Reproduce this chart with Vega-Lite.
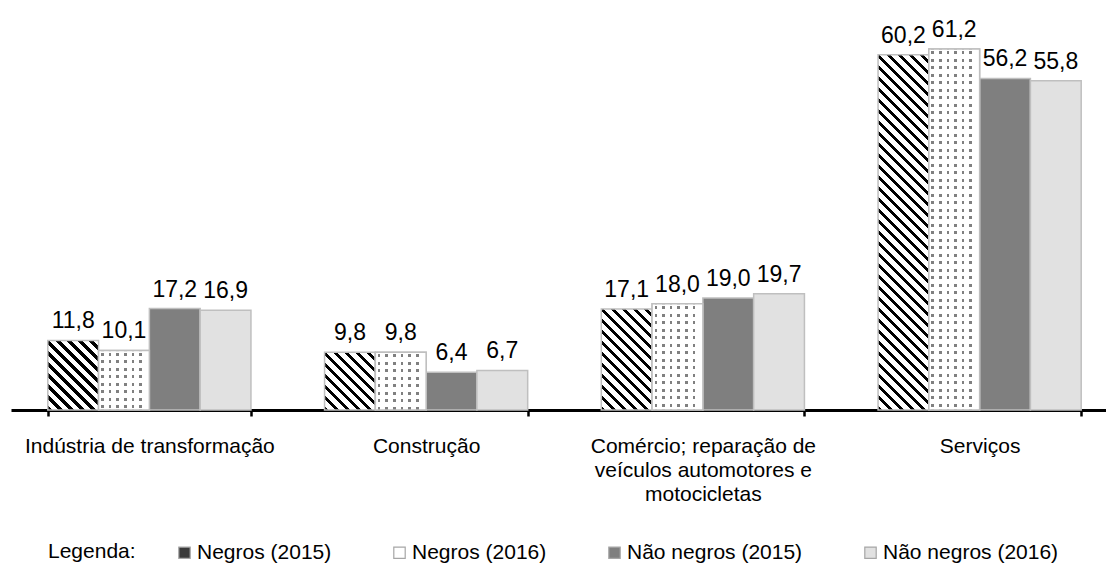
{
  "$schema": "https://vega.github.io/schema/vega-lite/v6.json",
  "width": 1095,
  "height": 410,
  "autosize": "none",
  "padding": {"left": 11, "top": 0, "right": 0, "bottom": 157},
  "background": "white",
  "config": {
    "view": {"stroke": null},
    "font": "Liberation Sans",
    "locale": {"number": {"decimal": ",", "thousands": ".", "grouping": [3], "currency": ["R$ ", ""]}}
  },
  "data": {
    "values": [
      {"setor": "Indústria de transformação", "grupo": "Negros (2015)", "valor": 11.8},
      {"setor": "Indústria de transformação", "grupo": "Negros (2016)", "valor": 10.1},
      {"setor": "Indústria de transformação", "grupo": "Não negros (2015)", "valor": 17.2},
      {"setor": "Indústria de transformação", "grupo": "Não negros (2016)", "valor": 16.9},
      {"setor": "Construção", "grupo": "Negros (2015)", "valor": 9.8},
      {"setor": "Construção", "grupo": "Negros (2016)", "valor": 9.8},
      {"setor": "Construção", "grupo": "Não negros (2015)", "valor": 6.4},
      {"setor": "Construção", "grupo": "Não negros (2016)", "valor": 6.7},
      {"setor": "Comércio; reparação de veículos automotores e motocicletas", "grupo": "Negros (2015)", "valor": 17.1},
      {"setor": "Comércio; reparação de veículos automotores e motocicletas", "grupo": "Negros (2016)", "valor": 18.0},
      {"setor": "Comércio; reparação de veículos automotores e motocicletas", "grupo": "Não negros (2015)", "valor": 19.0},
      {"setor": "Comércio; reparação de veículos automotores e motocicletas", "grupo": "Não negros (2016)", "valor": 19.7},
      {"setor": "Serviços", "grupo": "Negros (2015)", "valor": 60.2},
      {"setor": "Serviços", "grupo": "Negros (2016)", "valor": 61.2},
      {"setor": "Serviços", "grupo": "Não negros (2015)", "valor": 56.2},
      {"setor": "Serviços", "grupo": "Não negros (2016)", "valor": 55.8}
    ]
  },
  "encoding": {
    "x": {
      "field": "setor",
      "type": "nominal",
      "sort": ["Indústria de transformação", "Construção", "Comércio; reparação de veículos automotores e motocicletas", "Serviços"],
      "scale": {"range": [0, 1107], "paddingInner": 0.266, "paddingOuter": 0.133},
      "axis": {
        "title": null,
        "labelAngle": 0,
        "tickBand": "extent",
        "domainColor": "black",
        "domainWidth": 3,
        "tickColor": "black",
        "tickWidth": 2.5,
        "tickSize": 6,
        "labelFontSize": 21,
        "labelColor": "black",
        "labelPadding": 19,
        "labelBaseline": "top",
        "labelLineHeight": 24,
        "labelLimit": 400,
        "labelOverlap": false,
        "labelExpr": "datum.value == 'Comércio; reparação de veículos automotores e motocicletas' ? ['Comércio; reparação de', 'veículos automotores e', 'motocicletas'] : datum.value"
      }
    },
    "xOffset": {
      "field": "grupo",
      "type": "nominal",
      "sort": ["Negros (2015)", "Negros (2016)", "Não negros (2015)", "Não negros (2016)"],
      "scale": {"paddingInner": 0, "paddingOuter": 0}
    },
    "y": {
      "field": "valor",
      "type": "quantitative",
      "scale": {"domain": [0, 69.5], "nice": false, "zero": true},
      "axis": null
    }
  },
  "layer": [
    {
      "mark": {"type": "bar", "stroke": "#bfbfbf", "strokeWidth": 1.5},
      "encoding": {
        "fill": {
          "field": "grupo",
          "type": "nominal",
          "scale": {
            "domain": ["Negros (2015)", "Negros (2016)", "Não negros (2015)", "Não negros (2016)"],
            "range": ["#3a3a3a", "#ffffff", "#7f7f7f", "#e1e1e1"]
          },
          "condition": [
            {"test": "datum.grupo === 'Negros (2015)' && datum.setor === 'Indústria de transformação'",
             "value": {"gradient": "linear", "x1": 0, "y1": 1, "x2": 3.0095, "y2": -3.1255, "stops": [
              {"offset":0,"color":"#fff"},{"offset":0,"color":"#000"},{"offset":0.01,"color":"#000"},{"offset":0.01,"color":"#fff"},
              {"offset":0.025,"color":"#fff"},{"offset":0.025,"color":"#000"},{"offset":0.035,"color":"#000"},{"offset":0.035,"color":"#fff"},
              {"offset":0.05,"color":"#fff"},{"offset":0.05,"color":"#000"},{"offset":0.06,"color":"#000"},{"offset":0.06,"color":"#fff"},
              {"offset":0.075,"color":"#fff"},{"offset":0.075,"color":"#000"},{"offset":0.085,"color":"#000"},{"offset":0.085,"color":"#fff"},
              {"offset":0.1,"color":"#fff"},{"offset":0.1,"color":"#000"},{"offset":0.11,"color":"#000"},{"offset":0.11,"color":"#fff"},
              {"offset":0.125,"color":"#fff"},{"offset":0.125,"color":"#000"},{"offset":0.135,"color":"#000"},{"offset":0.135,"color":"#fff"},
              {"offset":0.15,"color":"#fff"},{"offset":0.15,"color":"#000"},{"offset":0.16,"color":"#000"},{"offset":0.16,"color":"#fff"},
              {"offset":0.175,"color":"#fff"},{"offset":0.175,"color":"#000"},{"offset":0.185,"color":"#000"},{"offset":0.185,"color":"#fff"},
              {"offset":0.2,"color":"#fff"},{"offset":0.2,"color":"#000"},{"offset":0.21,"color":"#000"},{"offset":0.21,"color":"#fff"},
              {"offset":0.225,"color":"#fff"},{"offset":0.225,"color":"#000"},{"offset":0.235,"color":"#000"},{"offset":0.235,"color":"#fff"},
              {"offset":0.25,"color":"#fff"},{"offset":0.25,"color":"#000"},{"offset":0.26,"color":"#000"},{"offset":0.26,"color":"#fff"}
             ]}},
            {"test": "datum.grupo === 'Negros (2015)' && datum.setor === 'Construção'",
             "value": {"gradient": "linear", "x1": 0, "y1": 1, "x2": 3.7738, "y2": -3.2963, "stops": [
              {"offset":0,"color":"#fff"},{"offset":0,"color":"#000"},{"offset":0.01,"color":"#000"},{"offset":0.01,"color":"#fff"},
              {"offset":0.025,"color":"#fff"},{"offset":0.025,"color":"#000"},{"offset":0.035,"color":"#000"},{"offset":0.035,"color":"#fff"},
              {"offset":0.05,"color":"#fff"},{"offset":0.05,"color":"#000"},{"offset":0.06,"color":"#000"},{"offset":0.06,"color":"#fff"},
              {"offset":0.075,"color":"#fff"},{"offset":0.075,"color":"#000"},{"offset":0.085,"color":"#000"},{"offset":0.085,"color":"#fff"},
              {"offset":0.1,"color":"#fff"},{"offset":0.1,"color":"#000"},{"offset":0.11,"color":"#000"},{"offset":0.11,"color":"#fff"},
              {"offset":0.125,"color":"#fff"},{"offset":0.125,"color":"#000"},{"offset":0.135,"color":"#000"},{"offset":0.135,"color":"#fff"},
              {"offset":0.15,"color":"#fff"},{"offset":0.15,"color":"#000"},{"offset":0.16,"color":"#000"},{"offset":0.16,"color":"#fff"},
              {"offset":0.175,"color":"#fff"},{"offset":0.175,"color":"#000"},{"offset":0.185,"color":"#000"},{"offset":0.185,"color":"#fff"},
              {"offset":0.2,"color":"#fff"},{"offset":0.2,"color":"#000"},{"offset":0.21,"color":"#000"},{"offset":0.21,"color":"#fff"},
              {"offset":0.225,"color":"#fff"},{"offset":0.225,"color":"#000"},{"offset":0.235,"color":"#000"},{"offset":0.235,"color":"#fff"}
             ]}},
            {"test": "datum.grupo === 'Negros (2015)' && datum.setor === 'Comércio; reparação de veículos automotores e motocicletas'",
             "value": {"gradient": "linear", "x1": 0, "y1": 1, "x2": 1.7517, "y2": -2.4798, "stops": [
              {"offset":0,"color":"#fff"},{"offset":0,"color":"#000"},{"offset":0.01,"color":"#000"},{"offset":0.01,"color":"#fff"},
              {"offset":0.025,"color":"#fff"},{"offset":0.025,"color":"#000"},{"offset":0.035,"color":"#000"},{"offset":0.035,"color":"#fff"},
              {"offset":0.05,"color":"#fff"},{"offset":0.05,"color":"#000"},{"offset":0.06,"color":"#000"},{"offset":0.06,"color":"#fff"},
              {"offset":0.075,"color":"#fff"},{"offset":0.075,"color":"#000"},{"offset":0.085,"color":"#000"},{"offset":0.085,"color":"#fff"},
              {"offset":0.1,"color":"#fff"},{"offset":0.1,"color":"#000"},{"offset":0.11,"color":"#000"},{"offset":0.11,"color":"#fff"},
              {"offset":0.125,"color":"#fff"},{"offset":0.125,"color":"#000"},{"offset":0.135,"color":"#000"},{"offset":0.135,"color":"#fff"},
              {"offset":0.15,"color":"#fff"},{"offset":0.15,"color":"#000"},{"offset":0.16,"color":"#000"},{"offset":0.16,"color":"#fff"},
              {"offset":0.175,"color":"#fff"},{"offset":0.175,"color":"#000"},{"offset":0.185,"color":"#000"},{"offset":0.185,"color":"#fff"},
              {"offset":0.2,"color":"#fff"},{"offset":0.2,"color":"#000"},{"offset":0.21,"color":"#000"},{"offset":0.21,"color":"#fff"},
              {"offset":0.225,"color":"#fff"},{"offset":0.225,"color":"#000"},{"offset":0.235,"color":"#000"},{"offset":0.235,"color":"#fff"},
              {"offset":0.25,"color":"#fff"},{"offset":0.25,"color":"#000"},{"offset":0.26,"color":"#000"},{"offset":0.26,"color":"#fff"},
              {"offset":0.275,"color":"#fff"},{"offset":0.275,"color":"#000"},{"offset":0.285,"color":"#000"},{"offset":0.285,"color":"#fff"},
              {"offset":0.3,"color":"#fff"},{"offset":0.3,"color":"#000"},{"offset":0.31,"color":"#000"},{"offset":0.31,"color":"#fff"},
              {"offset":0.325,"color":"#fff"},{"offset":0.325,"color":"#000"},{"offset":0.335,"color":"#000"},{"offset":0.335,"color":"#fff"}
             ]}},
            {"test": "datum.grupo === 'Negros (2015)' && datum.setor === 'Serviços'",
             "value": {"gradient": "linear", "x1": 0, "y1": 1, "x2": 0.17361, "y2": -0.21415, "stops": [
              {"offset":0,"color":"#fff"},{"offset":0,"color":"#000"},{"offset":0.01,"color":"#000"},{"offset":0.01,"color":"#fff"},
              {"offset":0.025,"color":"#fff"},{"offset":0.025,"color":"#000"},{"offset":0.035,"color":"#000"},{"offset":0.035,"color":"#fff"},
              {"offset":0.05,"color":"#fff"},{"offset":0.05,"color":"#000"},{"offset":0.06,"color":"#000"},{"offset":0.06,"color":"#fff"},
              {"offset":0.075,"color":"#fff"},{"offset":0.075,"color":"#000"},{"offset":0.085,"color":"#000"},{"offset":0.085,"color":"#fff"},
              {"offset":0.1,"color":"#fff"},{"offset":0.1,"color":"#000"},{"offset":0.11,"color":"#000"},{"offset":0.11,"color":"#fff"},
              {"offset":0.125,"color":"#fff"},{"offset":0.125,"color":"#000"},{"offset":0.135,"color":"#000"},{"offset":0.135,"color":"#fff"},
              {"offset":0.15,"color":"#fff"},{"offset":0.15,"color":"#000"},{"offset":0.16,"color":"#000"},{"offset":0.16,"color":"#fff"},
              {"offset":0.175,"color":"#fff"},{"offset":0.175,"color":"#000"},{"offset":0.185,"color":"#000"},{"offset":0.185,"color":"#fff"},
              {"offset":0.2,"color":"#fff"},{"offset":0.2,"color":"#000"},{"offset":0.21,"color":"#000"},{"offset":0.21,"color":"#fff"},
              {"offset":0.225,"color":"#fff"},{"offset":0.225,"color":"#000"},{"offset":0.235,"color":"#000"},{"offset":0.235,"color":"#fff"},
              {"offset":0.25,"color":"#fff"},{"offset":0.25,"color":"#000"},{"offset":0.26,"color":"#000"},{"offset":0.26,"color":"#fff"},
              {"offset":0.275,"color":"#fff"},{"offset":0.275,"color":"#000"},{"offset":0.285,"color":"#000"},{"offset":0.285,"color":"#fff"},
              {"offset":0.3,"color":"#fff"},{"offset":0.3,"color":"#000"},{"offset":0.31,"color":"#000"},{"offset":0.31,"color":"#fff"},
              {"offset":0.325,"color":"#fff"},{"offset":0.325,"color":"#000"},{"offset":0.335,"color":"#000"},{"offset":0.335,"color":"#fff"},
              {"offset":0.35,"color":"#fff"},{"offset":0.35,"color":"#000"},{"offset":0.36,"color":"#000"},{"offset":0.36,"color":"#fff"},
              {"offset":0.375,"color":"#fff"},{"offset":0.375,"color":"#000"},{"offset":0.385,"color":"#000"},{"offset":0.385,"color":"#fff"},
              {"offset":0.4,"color":"#fff"},{"offset":0.4,"color":"#000"},{"offset":0.41,"color":"#000"},{"offset":0.41,"color":"#fff"},
              {"offset":0.425,"color":"#fff"},{"offset":0.425,"color":"#000"},{"offset":0.435,"color":"#000"},{"offset":0.435,"color":"#fff"},
              {"offset":0.45,"color":"#fff"},{"offset":0.45,"color":"#000"},{"offset":0.46,"color":"#000"},{"offset":0.46,"color":"#fff"},
              {"offset":0.475,"color":"#fff"},{"offset":0.475,"color":"#000"},{"offset":0.485,"color":"#000"},{"offset":0.485,"color":"#fff"},
              {"offset":0.5,"color":"#fff"},{"offset":0.5,"color":"#000"},{"offset":0.51,"color":"#000"},{"offset":0.51,"color":"#fff"},
              {"offset":0.525,"color":"#fff"},{"offset":0.525,"color":"#000"},{"offset":0.535,"color":"#000"},{"offset":0.535,"color":"#fff"},
              {"offset":0.55,"color":"#fff"},{"offset":0.55,"color":"#000"},{"offset":0.56,"color":"#000"},{"offset":0.56,"color":"#fff"},
              {"offset":0.575,"color":"#fff"},{"offset":0.575,"color":"#000"},{"offset":0.585,"color":"#000"},{"offset":0.585,"color":"#fff"},
              {"offset":0.6,"color":"#fff"},{"offset":0.6,"color":"#000"},{"offset":0.61,"color":"#000"},{"offset":0.61,"color":"#fff"},
              {"offset":0.625,"color":"#fff"},{"offset":0.625,"color":"#000"},{"offset":0.635,"color":"#000"},{"offset":0.635,"color":"#fff"},
              {"offset":0.65,"color":"#fff"},{"offset":0.65,"color":"#000"},{"offset":0.66,"color":"#000"},{"offset":0.66,"color":"#fff"},
              {"offset":0.675,"color":"#fff"},{"offset":0.675,"color":"#000"},{"offset":0.685,"color":"#000"},{"offset":0.685,"color":"#fff"},
              {"offset":0.7,"color":"#fff"},{"offset":0.7,"color":"#000"},{"offset":0.71,"color":"#000"},{"offset":0.71,"color":"#fff"},
              {"offset":0.725,"color":"#fff"},{"offset":0.725,"color":"#000"},{"offset":0.735,"color":"#000"},{"offset":0.735,"color":"#fff"},
              {"offset":0.75,"color":"#fff"},{"offset":0.75,"color":"#000"},{"offset":0.76,"color":"#000"},{"offset":0.76,"color":"#fff"},
              {"offset":0.775,"color":"#fff"},{"offset":0.775,"color":"#000"},{"offset":0.785,"color":"#000"},{"offset":0.785,"color":"#fff"},
              {"offset":0.8,"color":"#fff"},{"offset":0.8,"color":"#000"},{"offset":0.81,"color":"#000"},{"offset":0.81,"color":"#fff"},
              {"offset":0.825,"color":"#fff"},{"offset":0.825,"color":"#000"},{"offset":0.835,"color":"#000"},{"offset":0.835,"color":"#fff"},
              {"offset":0.85,"color":"#fff"},{"offset":0.85,"color":"#000"},{"offset":0.86,"color":"#000"},{"offset":0.86,"color":"#fff"},
              {"offset":0.875,"color":"#fff"},{"offset":0.875,"color":"#000"},{"offset":0.885,"color":"#000"},{"offset":0.885,"color":"#fff"},
              {"offset":0.9,"color":"#fff"},{"offset":0.9,"color":"#000"},{"offset":0.91,"color":"#000"},{"offset":0.91,"color":"#fff"}
             ]}}
          ],
          "legend": {
            "orient": "none",
            "legendX": 37,
            "legendY": 542,
            "direction": "horizontal",
            "title": "Legenda:",
            "titleOrient": "left",
            "titleFontSize": 21,
            "titleFontWeight": "normal",
            "titleColor": "black",
            "titlePadding": 38,
            "labelFontSize": 21,
            "labelColor": "black",
            "labelLimit": 300,
            "labelOffset": 2,
            "columnPadding": 57,
            "symbolType": "square",
            "symbolSize": 130,
            "symbolStrokeColor": "#a6a6a6",
            "symbolStrokeWidth": 1,
            "symbolOpacity": 1,
            "encode": {
              "symbols": {
                "update": {
                  "stroke": {"value": "#a6a6a6"},
                  "strokeWidth": {"value": 1.2}
                }
              }
            }
          }
        }
      }
    },
    {
      "transform": [{"filter": "datum.grupo === 'Negros (2016)'"}],
      "mark": {"type": "bar", "strokeWidth": 0},
      "encoding": {
        "fill": {
          "condition": [
            {"test": "datum.setor === 'Indústria de transformação'",
             "value": {"gradient": "linear", "x1": 0, "y1": 0, "x2": 0, "y2": 6.294, "stops": [
              {"offset":0.006,"color":"rgba(0,0,0,0)"},{"offset":0.006,"color":"#808080"},{"offset":0.014,"color":"#808080"},{"offset":0.014,"color":"rgba(0,0,0,0)"},
              {"offset":0.026,"color":"rgba(0,0,0,0)"},{"offset":0.026,"color":"#808080"},{"offset":0.034,"color":"#808080"},{"offset":0.034,"color":"rgba(0,0,0,0)"},
              {"offset":0.046,"color":"rgba(0,0,0,0)"},{"offset":0.046,"color":"#808080"},{"offset":0.054,"color":"#808080"},{"offset":0.054,"color":"rgba(0,0,0,0)"},
              {"offset":0.066,"color":"rgba(0,0,0,0)"},{"offset":0.066,"color":"#808080"},{"offset":0.074,"color":"#808080"},{"offset":0.074,"color":"rgba(0,0,0,0)"},
              {"offset":0.086,"color":"rgba(0,0,0,0)"},{"offset":0.086,"color":"#808080"},{"offset":0.094,"color":"#808080"},{"offset":0.094,"color":"rgba(0,0,0,0)"},
              {"offset":0.106,"color":"rgba(0,0,0,0)"},{"offset":0.106,"color":"#808080"},{"offset":0.114,"color":"#808080"},{"offset":0.114,"color":"rgba(0,0,0,0)"},
              {"offset":0.126,"color":"rgba(0,0,0,0)"},{"offset":0.126,"color":"#808080"},{"offset":0.134,"color":"#808080"},{"offset":0.134,"color":"rgba(0,0,0,0)"},
              {"offset":0.146,"color":"rgba(0,0,0,0)"},{"offset":0.146,"color":"#808080"},{"offset":0.154,"color":"#808080"},{"offset":0.154,"color":"rgba(0,0,0,0)"}
             ]}},
            {"test": "datum.setor === 'Construção'",
             "value": {"gradient": "linear", "x1": 0, "y1": 0, "x2": 0, "y2": 6.487, "stops": [
              {"offset":0.006,"color":"rgba(0,0,0,0)"},{"offset":0.006,"color":"#808080"},{"offset":0.014,"color":"#808080"},{"offset":0.014,"color":"rgba(0,0,0,0)"},
              {"offset":0.026,"color":"rgba(0,0,0,0)"},{"offset":0.026,"color":"#808080"},{"offset":0.034,"color":"#808080"},{"offset":0.034,"color":"rgba(0,0,0,0)"},
              {"offset":0.046,"color":"rgba(0,0,0,0)"},{"offset":0.046,"color":"#808080"},{"offset":0.054,"color":"#808080"},{"offset":0.054,"color":"rgba(0,0,0,0)"},
              {"offset":0.066,"color":"rgba(0,0,0,0)"},{"offset":0.066,"color":"#808080"},{"offset":0.074,"color":"#808080"},{"offset":0.074,"color":"rgba(0,0,0,0)"},
              {"offset":0.086,"color":"rgba(0,0,0,0)"},{"offset":0.086,"color":"#808080"},{"offset":0.094,"color":"#808080"},{"offset":0.094,"color":"rgba(0,0,0,0)"},
              {"offset":0.106,"color":"rgba(0,0,0,0)"},{"offset":0.106,"color":"#808080"},{"offset":0.114,"color":"#808080"},{"offset":0.114,"color":"rgba(0,0,0,0)"},
              {"offset":0.126,"color":"rgba(0,0,0,0)"},{"offset":0.126,"color":"#808080"},{"offset":0.134,"color":"#808080"},{"offset":0.134,"color":"rgba(0,0,0,0)"},
              {"offset":0.146,"color":"rgba(0,0,0,0)"},{"offset":0.146,"color":"#808080"},{"offset":0.154,"color":"#808080"},{"offset":0.154,"color":"rgba(0,0,0,0)"}
             ]}},
            {"test": "datum.setor === 'Comércio; reparação de veículos automotores e motocicletas'",
             "value": {"gradient": "linear", "x1": 0, "y1": 0, "x2": 0, "y2": 3.531, "stops": [
              {"offset":0.006,"color":"rgba(0,0,0,0)"},{"offset":0.006,"color":"#808080"},{"offset":0.014,"color":"#808080"},{"offset":0.014,"color":"rgba(0,0,0,0)"},
              {"offset":0.026,"color":"rgba(0,0,0,0)"},{"offset":0.026,"color":"#808080"},{"offset":0.034,"color":"#808080"},{"offset":0.034,"color":"rgba(0,0,0,0)"},
              {"offset":0.046,"color":"rgba(0,0,0,0)"},{"offset":0.046,"color":"#808080"},{"offset":0.054,"color":"#808080"},{"offset":0.054,"color":"rgba(0,0,0,0)"},
              {"offset":0.066,"color":"rgba(0,0,0,0)"},{"offset":0.066,"color":"#808080"},{"offset":0.074,"color":"#808080"},{"offset":0.074,"color":"rgba(0,0,0,0)"},
              {"offset":0.086,"color":"rgba(0,0,0,0)"},{"offset":0.086,"color":"#808080"},{"offset":0.094,"color":"#808080"},{"offset":0.094,"color":"rgba(0,0,0,0)"},
              {"offset":0.106,"color":"rgba(0,0,0,0)"},{"offset":0.106,"color":"#808080"},{"offset":0.114,"color":"#808080"},{"offset":0.114,"color":"rgba(0,0,0,0)"},
              {"offset":0.126,"color":"rgba(0,0,0,0)"},{"offset":0.126,"color":"#808080"},{"offset":0.134,"color":"#808080"},{"offset":0.134,"color":"rgba(0,0,0,0)"},
              {"offset":0.146,"color":"rgba(0,0,0,0)"},{"offset":0.146,"color":"#808080"},{"offset":0.154,"color":"#808080"},{"offset":0.154,"color":"rgba(0,0,0,0)"},
              {"offset":0.166,"color":"rgba(0,0,0,0)"},{"offset":0.166,"color":"#808080"},{"offset":0.174,"color":"#808080"},{"offset":0.174,"color":"rgba(0,0,0,0)"},
              {"offset":0.186,"color":"rgba(0,0,0,0)"},{"offset":0.186,"color":"#808080"},{"offset":0.194,"color":"#808080"},{"offset":0.194,"color":"rgba(0,0,0,0)"},
              {"offset":0.206,"color":"rgba(0,0,0,0)"},{"offset":0.206,"color":"#808080"},{"offset":0.214,"color":"#808080"},{"offset":0.214,"color":"rgba(0,0,0,0)"},
              {"offset":0.226,"color":"rgba(0,0,0,0)"},{"offset":0.226,"color":"#808080"},{"offset":0.234,"color":"#808080"},{"offset":0.234,"color":"rgba(0,0,0,0)"},
              {"offset":0.246,"color":"rgba(0,0,0,0)"},{"offset":0.246,"color":"#808080"},{"offset":0.254,"color":"#808080"},{"offset":0.254,"color":"rgba(0,0,0,0)"},
              {"offset":0.266,"color":"rgba(0,0,0,0)"},{"offset":0.266,"color":"#808080"},{"offset":0.274,"color":"#808080"},{"offset":0.274,"color":"rgba(0,0,0,0)"}
             ]}},
            {"test": "datum.setor === 'Serviços'",
             "value": {"gradient": "linear", "x1": 0, "y1": 0, "x2": 0, "y2": 1.0387, "stops": [
              {"offset":0.006,"color":"rgba(0,0,0,0)"},{"offset":0.006,"color":"#808080"},{"offset":0.014,"color":"#808080"},{"offset":0.014,"color":"rgba(0,0,0,0)"},
              {"offset":0.026,"color":"rgba(0,0,0,0)"},{"offset":0.026,"color":"#808080"},{"offset":0.034,"color":"#808080"},{"offset":0.034,"color":"rgba(0,0,0,0)"},
              {"offset":0.046,"color":"rgba(0,0,0,0)"},{"offset":0.046,"color":"#808080"},{"offset":0.054,"color":"#808080"},{"offset":0.054,"color":"rgba(0,0,0,0)"},
              {"offset":0.066,"color":"rgba(0,0,0,0)"},{"offset":0.066,"color":"#808080"},{"offset":0.074,"color":"#808080"},{"offset":0.074,"color":"rgba(0,0,0,0)"},
              {"offset":0.086,"color":"rgba(0,0,0,0)"},{"offset":0.086,"color":"#808080"},{"offset":0.094,"color":"#808080"},{"offset":0.094,"color":"rgba(0,0,0,0)"},
              {"offset":0.106,"color":"rgba(0,0,0,0)"},{"offset":0.106,"color":"#808080"},{"offset":0.114,"color":"#808080"},{"offset":0.114,"color":"rgba(0,0,0,0)"},
              {"offset":0.126,"color":"rgba(0,0,0,0)"},{"offset":0.126,"color":"#808080"},{"offset":0.134,"color":"#808080"},{"offset":0.134,"color":"rgba(0,0,0,0)"},
              {"offset":0.146,"color":"rgba(0,0,0,0)"},{"offset":0.146,"color":"#808080"},{"offset":0.154,"color":"#808080"},{"offset":0.154,"color":"rgba(0,0,0,0)"},
              {"offset":0.166,"color":"rgba(0,0,0,0)"},{"offset":0.166,"color":"#808080"},{"offset":0.174,"color":"#808080"},{"offset":0.174,"color":"rgba(0,0,0,0)"},
              {"offset":0.186,"color":"rgba(0,0,0,0)"},{"offset":0.186,"color":"#808080"},{"offset":0.194,"color":"#808080"},{"offset":0.194,"color":"rgba(0,0,0,0)"},
              {"offset":0.206,"color":"rgba(0,0,0,0)"},{"offset":0.206,"color":"#808080"},{"offset":0.214,"color":"#808080"},{"offset":0.214,"color":"rgba(0,0,0,0)"},
              {"offset":0.226,"color":"rgba(0,0,0,0)"},{"offset":0.226,"color":"#808080"},{"offset":0.234,"color":"#808080"},{"offset":0.234,"color":"rgba(0,0,0,0)"},
              {"offset":0.246,"color":"rgba(0,0,0,0)"},{"offset":0.246,"color":"#808080"},{"offset":0.254,"color":"#808080"},{"offset":0.254,"color":"rgba(0,0,0,0)"},
              {"offset":0.266,"color":"rgba(0,0,0,0)"},{"offset":0.266,"color":"#808080"},{"offset":0.274,"color":"#808080"},{"offset":0.274,"color":"rgba(0,0,0,0)"},
              {"offset":0.286,"color":"rgba(0,0,0,0)"},{"offset":0.286,"color":"#808080"},{"offset":0.294,"color":"#808080"},{"offset":0.294,"color":"rgba(0,0,0,0)"},
              {"offset":0.306,"color":"rgba(0,0,0,0)"},{"offset":0.306,"color":"#808080"},{"offset":0.314,"color":"#808080"},{"offset":0.314,"color":"rgba(0,0,0,0)"},
              {"offset":0.326,"color":"rgba(0,0,0,0)"},{"offset":0.326,"color":"#808080"},{"offset":0.334,"color":"#808080"},{"offset":0.334,"color":"rgba(0,0,0,0)"},
              {"offset":0.346,"color":"rgba(0,0,0,0)"},{"offset":0.346,"color":"#808080"},{"offset":0.354,"color":"#808080"},{"offset":0.354,"color":"rgba(0,0,0,0)"},
              {"offset":0.366,"color":"rgba(0,0,0,0)"},{"offset":0.366,"color":"#808080"},{"offset":0.374,"color":"#808080"},{"offset":0.374,"color":"rgba(0,0,0,0)"},
              {"offset":0.386,"color":"rgba(0,0,0,0)"},{"offset":0.386,"color":"#808080"},{"offset":0.394,"color":"#808080"},{"offset":0.394,"color":"rgba(0,0,0,0)"},
              {"offset":0.406,"color":"rgba(0,0,0,0)"},{"offset":0.406,"color":"#808080"},{"offset":0.414,"color":"#808080"},{"offset":0.414,"color":"rgba(0,0,0,0)"},
              {"offset":0.426,"color":"rgba(0,0,0,0)"},{"offset":0.426,"color":"#808080"},{"offset":0.434,"color":"#808080"},{"offset":0.434,"color":"rgba(0,0,0,0)"},
              {"offset":0.446,"color":"rgba(0,0,0,0)"},{"offset":0.446,"color":"#808080"},{"offset":0.454,"color":"#808080"},{"offset":0.454,"color":"rgba(0,0,0,0)"},
              {"offset":0.466,"color":"rgba(0,0,0,0)"},{"offset":0.466,"color":"#808080"},{"offset":0.474,"color":"#808080"},{"offset":0.474,"color":"rgba(0,0,0,0)"},
              {"offset":0.486,"color":"rgba(0,0,0,0)"},{"offset":0.486,"color":"#808080"},{"offset":0.494,"color":"#808080"},{"offset":0.494,"color":"rgba(0,0,0,0)"},
              {"offset":0.506,"color":"rgba(0,0,0,0)"},{"offset":0.506,"color":"#808080"},{"offset":0.514,"color":"#808080"},{"offset":0.514,"color":"rgba(0,0,0,0)"},
              {"offset":0.526,"color":"rgba(0,0,0,0)"},{"offset":0.526,"color":"#808080"},{"offset":0.534,"color":"#808080"},{"offset":0.534,"color":"rgba(0,0,0,0)"},
              {"offset":0.546,"color":"rgba(0,0,0,0)"},{"offset":0.546,"color":"#808080"},{"offset":0.554,"color":"#808080"},{"offset":0.554,"color":"rgba(0,0,0,0)"},
              {"offset":0.566,"color":"rgba(0,0,0,0)"},{"offset":0.566,"color":"#808080"},{"offset":0.574,"color":"#808080"},{"offset":0.574,"color":"rgba(0,0,0,0)"},
              {"offset":0.586,"color":"rgba(0,0,0,0)"},{"offset":0.586,"color":"#808080"},{"offset":0.594,"color":"#808080"},{"offset":0.594,"color":"rgba(0,0,0,0)"},
              {"offset":0.606,"color":"rgba(0,0,0,0)"},{"offset":0.606,"color":"#808080"},{"offset":0.614,"color":"#808080"},{"offset":0.614,"color":"rgba(0,0,0,0)"},
              {"offset":0.626,"color":"rgba(0,0,0,0)"},{"offset":0.626,"color":"#808080"},{"offset":0.634,"color":"#808080"},{"offset":0.634,"color":"rgba(0,0,0,0)"},
              {"offset":0.646,"color":"rgba(0,0,0,0)"},{"offset":0.646,"color":"#808080"},{"offset":0.654,"color":"#808080"},{"offset":0.654,"color":"rgba(0,0,0,0)"},
              {"offset":0.666,"color":"rgba(0,0,0,0)"},{"offset":0.666,"color":"#808080"},{"offset":0.674,"color":"#808080"},{"offset":0.674,"color":"rgba(0,0,0,0)"},
              {"offset":0.686,"color":"rgba(0,0,0,0)"},{"offset":0.686,"color":"#808080"},{"offset":0.694,"color":"#808080"},{"offset":0.694,"color":"rgba(0,0,0,0)"},
              {"offset":0.706,"color":"rgba(0,0,0,0)"},{"offset":0.706,"color":"#808080"},{"offset":0.714,"color":"#808080"},{"offset":0.714,"color":"rgba(0,0,0,0)"},
              {"offset":0.726,"color":"rgba(0,0,0,0)"},{"offset":0.726,"color":"#808080"},{"offset":0.734,"color":"#808080"},{"offset":0.734,"color":"rgba(0,0,0,0)"},
              {"offset":0.746,"color":"rgba(0,0,0,0)"},{"offset":0.746,"color":"#808080"},{"offset":0.754,"color":"#808080"},{"offset":0.754,"color":"rgba(0,0,0,0)"},
              {"offset":0.766,"color":"rgba(0,0,0,0)"},{"offset":0.766,"color":"#808080"},{"offset":0.774,"color":"#808080"},{"offset":0.774,"color":"rgba(0,0,0,0)"},
              {"offset":0.786,"color":"rgba(0,0,0,0)"},{"offset":0.786,"color":"#808080"},{"offset":0.794,"color":"#808080"},{"offset":0.794,"color":"rgba(0,0,0,0)"},
              {"offset":0.806,"color":"rgba(0,0,0,0)"},{"offset":0.806,"color":"#808080"},{"offset":0.814,"color":"#808080"},{"offset":0.814,"color":"rgba(0,0,0,0)"},
              {"offset":0.826,"color":"rgba(0,0,0,0)"},{"offset":0.826,"color":"#808080"},{"offset":0.834,"color":"#808080"},{"offset":0.834,"color":"rgba(0,0,0,0)"},
              {"offset":0.846,"color":"rgba(0,0,0,0)"},{"offset":0.846,"color":"#808080"},{"offset":0.854,"color":"#808080"},{"offset":0.854,"color":"rgba(0,0,0,0)"},
              {"offset":0.866,"color":"rgba(0,0,0,0)"},{"offset":0.866,"color":"#808080"},{"offset":0.874,"color":"#808080"},{"offset":0.874,"color":"rgba(0,0,0,0)"},
              {"offset":0.886,"color":"rgba(0,0,0,0)"},{"offset":0.886,"color":"#808080"},{"offset":0.894,"color":"#808080"},{"offset":0.894,"color":"rgba(0,0,0,0)"},
              {"offset":0.906,"color":"rgba(0,0,0,0)"},{"offset":0.906,"color":"#808080"},{"offset":0.914,"color":"#808080"},{"offset":0.914,"color":"rgba(0,0,0,0)"},
              {"offset":0.926,"color":"rgba(0,0,0,0)"},{"offset":0.926,"color":"#808080"},{"offset":0.934,"color":"#808080"},{"offset":0.934,"color":"rgba(0,0,0,0)"},
              {"offset":0.946,"color":"rgba(0,0,0,0)"},{"offset":0.946,"color":"#808080"},{"offset":0.954,"color":"#808080"},{"offset":0.954,"color":"rgba(0,0,0,0)"}
             ]}}
          ],
          "value": "rgba(0,0,0,0)"
        }
      }
    },
    {
      "transform": [{"filter": "datum.grupo === 'Negros (2016)'"}],
      "mark": {"type": "bar", "stroke": "#bfbfbf", "strokeWidth": 1.5,
        "fill": {"gradient": "linear", "x1": 0, "y1": 0, "x2": 1, "y2": 0, "stops": [
          {"offset":0,"color":"#fff"},{"offset":0.05,"color":"#fff"},{"offset":0.05,"color":"rgba(255,255,255,0)"},{"offset":0.1,"color":"rgba(255,255,255,0)"},
          {"offset":0.1,"color":"#fff"},{"offset":0.2,"color":"#fff"},{"offset":0.2,"color":"rgba(255,255,255,0)"},{"offset":0.25,"color":"rgba(255,255,255,0)"},
          {"offset":0.25,"color":"#fff"},{"offset":0.35,"color":"#fff"},{"offset":0.35,"color":"rgba(255,255,255,0)"},{"offset":0.4,"color":"rgba(255,255,255,0)"},
          {"offset":0.4,"color":"#fff"},{"offset":0.5,"color":"#fff"},{"offset":0.5,"color":"rgba(255,255,255,0)"},{"offset":0.55,"color":"rgba(255,255,255,0)"},
          {"offset":0.55,"color":"#fff"},{"offset":0.65,"color":"#fff"},{"offset":0.65,"color":"rgba(255,255,255,0)"},{"offset":0.7,"color":"rgba(255,255,255,0)"},
          {"offset":0.7,"color":"#fff"},{"offset":0.8,"color":"#fff"},{"offset":0.8,"color":"rgba(255,255,255,0)"},{"offset":0.85,"color":"rgba(255,255,255,0)"},
          {"offset":0.85,"color":"#fff"},{"offset":1,"color":"#fff"}
        ]}}
    },
    {
      "mark": {"type": "text", "baseline": "alphabetic", "dy": -12, "fontSize": 23, "color": "black"},
      "encoding": {
        "text": {"field": "valor", "type": "quantitative", "format": ".1f"}
      }
    }
  ]
}
